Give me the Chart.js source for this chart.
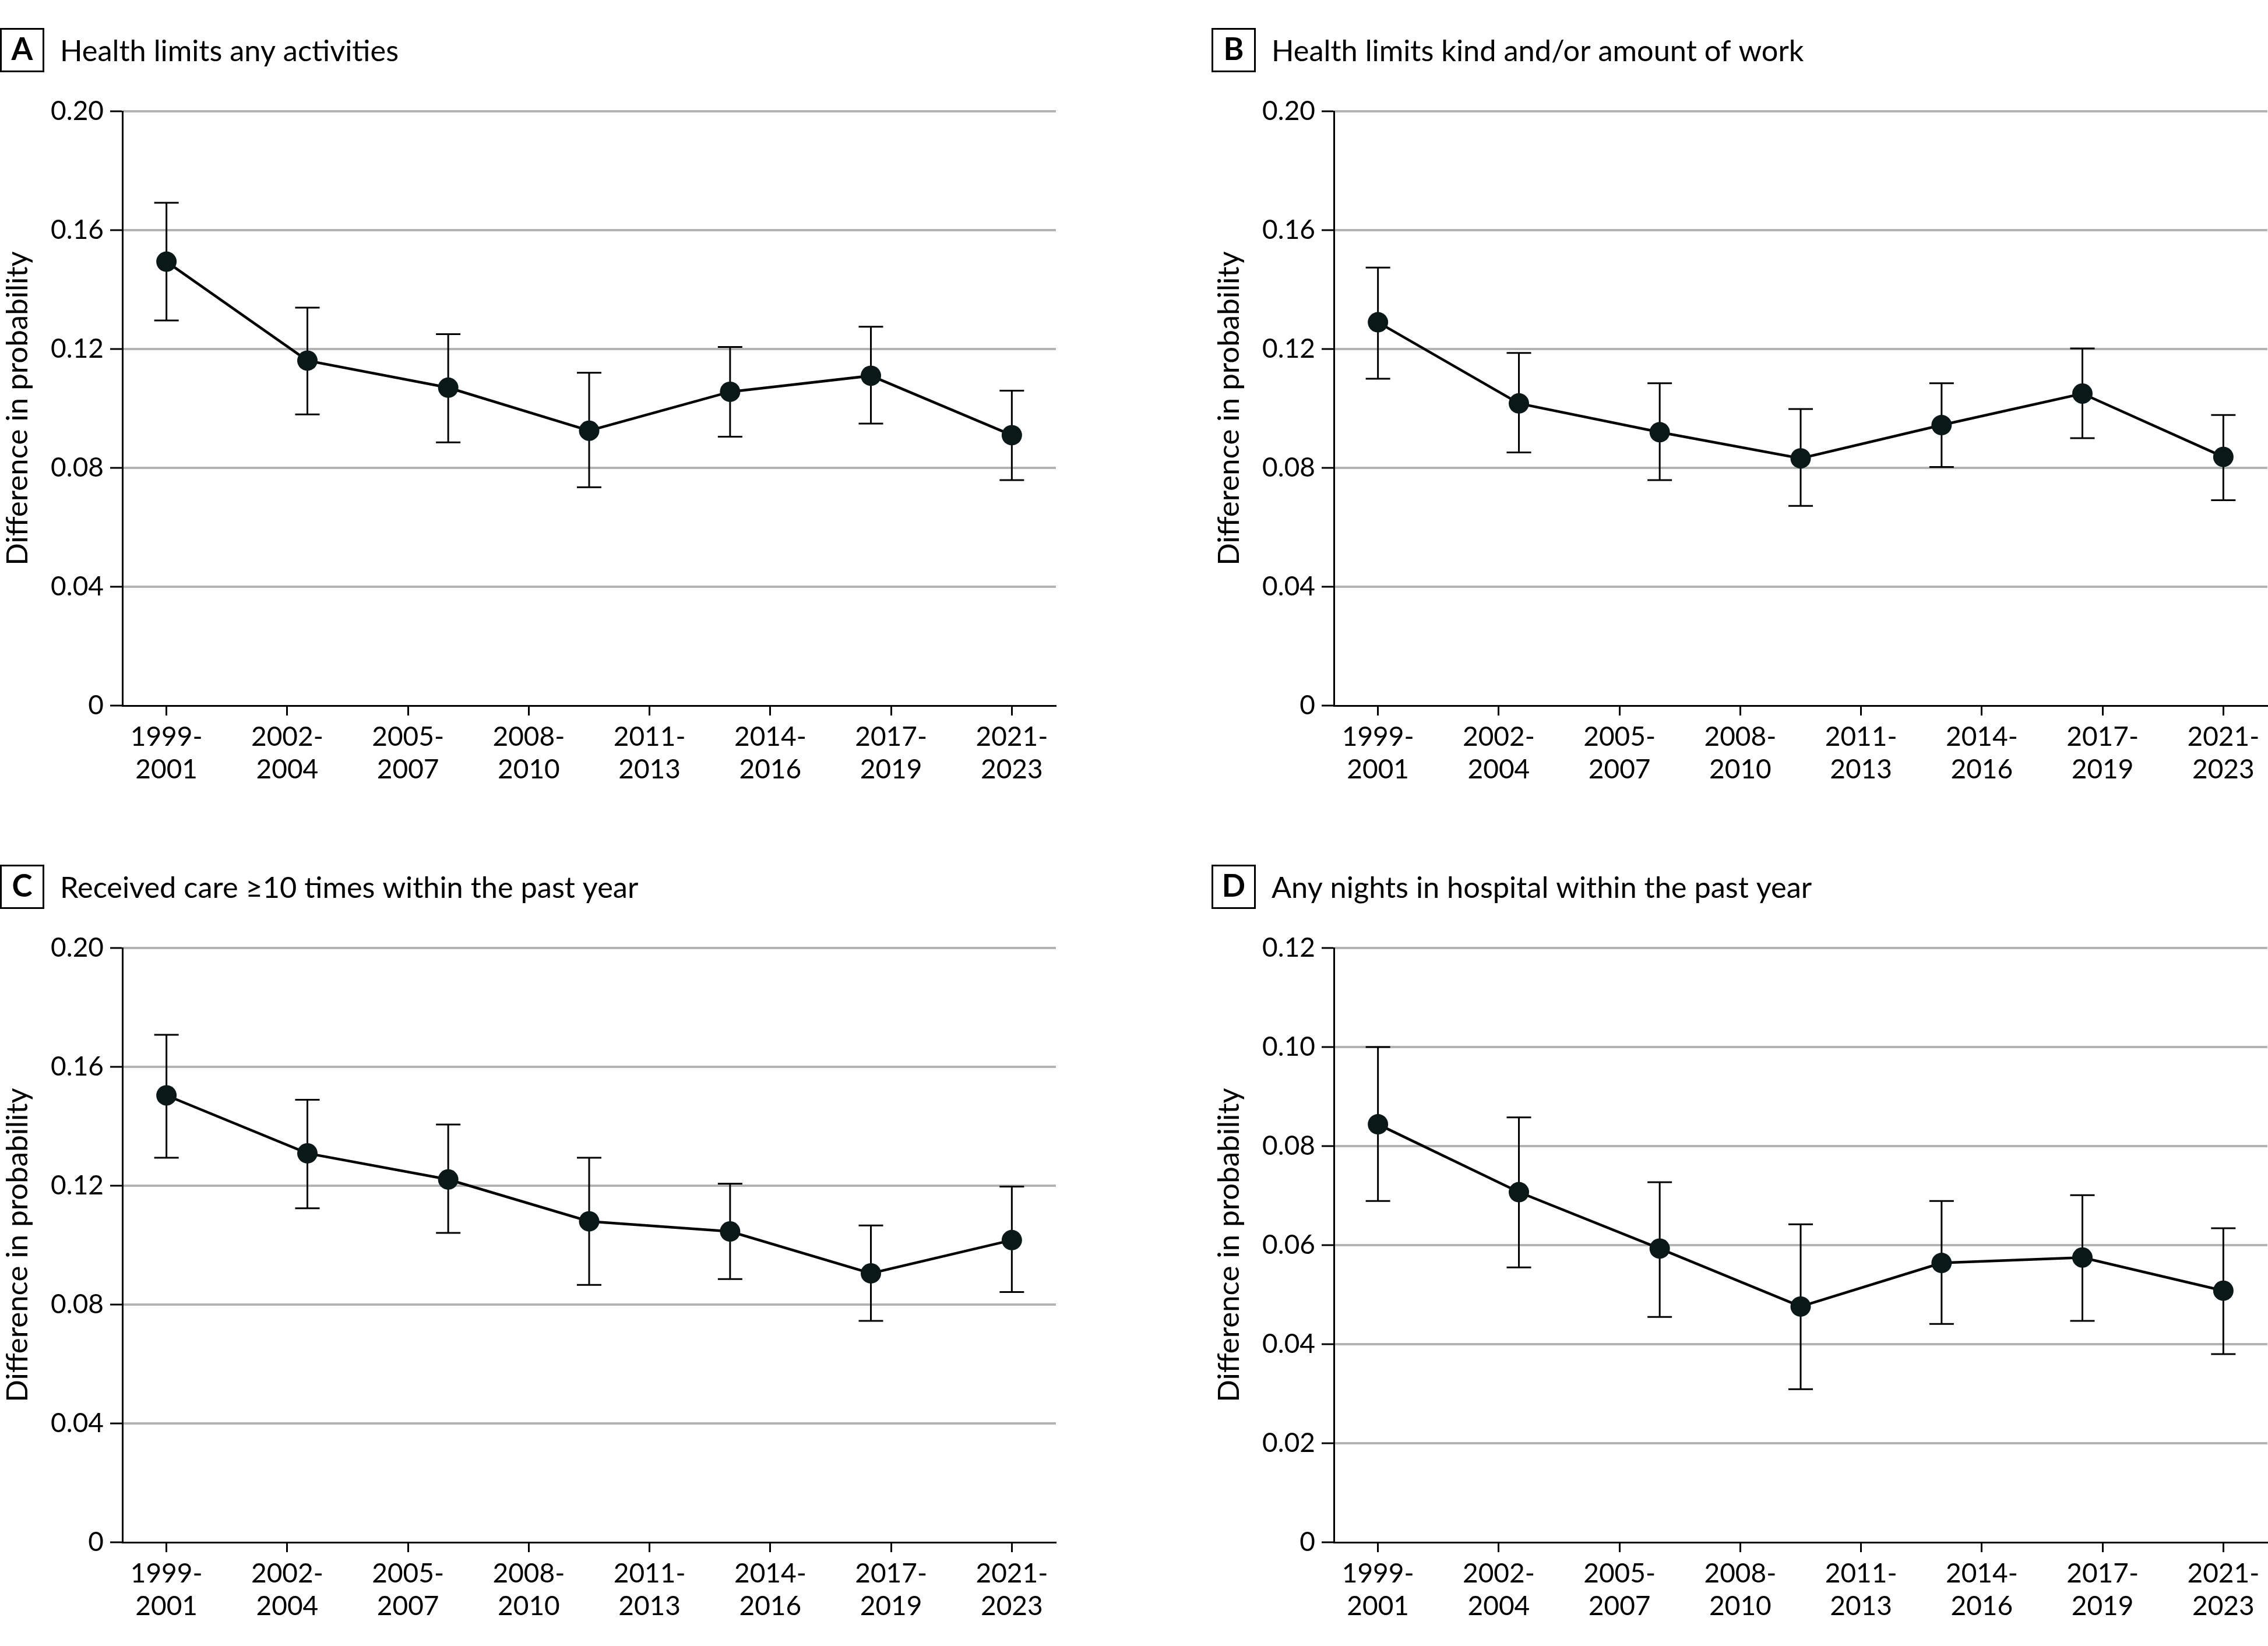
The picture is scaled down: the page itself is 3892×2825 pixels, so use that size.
<!DOCTYPE html>
<html>
<head>
<meta charset="utf-8">
<title>Difference in probability by period</title>
<script src="https://cdn.jsdelivr.net/npm/chart.js@4.4.1/dist/chart.umd.min.js"></script>
<style>
  html, body { margin: 0; padding: 0; background: #fff; }
  body { width: 3892px; height: 2825px; position: relative; overflow: hidden; }
  .panel { position: absolute; width: 1813px; height: 1389px; }
</style>
</head>
<body>
<div class="panel" style="left:0;top:0"><canvas id="chart-a"></canvas></div>
<div class="panel" style="left:2079px;top:0"><canvas id="chart-b"></canvas></div>
<div class="panel" style="left:0;top:1436px"><canvas id="chart-c"></canvas></div>
<div class="panel" style="left:2079px;top:1436px"><canvas id="chart-d"></canvas></div>
<script>
// x axis: period labels sit on ticks 0..7, the 7 estimates are spread evenly over the same span
const periodLabels = ['1999-2001', '2002-2004', '2005-2007', '2008-2010', '2011-2013', '2014-2016', '2017-2019', '2021-2023'];
const pointPositions = [0, 1.167, 2.333, 3.5, 4.667, 5.833, 7];

const yTicksWide = [0, 0.04, 0.08, 0.12, 0.16, 0.20];
const yTicksHospital = [0, 0.02, 0.04, 0.06, 0.08, 0.10, 0.12];

// A: health limits any activities
const activitiesEst = [0.1494, 0.1161, 0.1070, 0.0925, 0.1056, 0.1110, 0.0910];
const activitiesLow = [0.1296, 0.0980, 0.0886, 0.0735, 0.0905, 0.0949, 0.0759];
const activitiesHigh = [0.1692, 0.1339, 0.1250, 0.1120, 0.1207, 0.1275, 0.1060];

// B: health limits kind and/or amount of work
const workEst = [0.1290, 0.1017, 0.0920, 0.0832, 0.0944, 0.1050, 0.0837];
const workLow = [0.1100, 0.0852, 0.0759, 0.0672, 0.0803, 0.0900, 0.0691];
const workHigh = [0.1474, 0.1187, 0.1085, 0.0998, 0.1085, 0.1202, 0.0978];

// C: received care >=10 times
const careEst = [0.1504, 0.1309, 0.1221, 0.1080, 0.1046, 0.0905, 0.1017];
const careLow = [0.1294, 0.1124, 0.1041, 0.0866, 0.0886, 0.0745, 0.0842];
const careHigh = [0.1708, 0.1489, 0.1406, 0.1294, 0.1207, 0.1066, 0.1197];

// D: any nights in hospital
const hospitalEst = [0.0844, 0.0707, 0.0593, 0.0476, 0.0564, 0.0575, 0.0508];
const hospitalLow = [0.0689, 0.0555, 0.0455, 0.0309, 0.0441, 0.0447, 0.0380];
const hospitalHigh = [0.1000, 0.0858, 0.0727, 0.0642, 0.0689, 0.0701, 0.0634];

const FONT = 'Lato, "Open Sans", sans-serif';

/**
 * Error bars drawn under the line and markers.
 */
const errorBarPlugin = {
    id: 'errorBars',
    beforeDatasetsDraw(chart, args, opts) {
        const ctx = chart.ctx;
        const x = chart.scales.x;
        const y = chart.scales.y;
        ctx.save();
        ctx.strokeStyle = '#000';
        ctx.lineWidth = 3;
        opts.low.forEach((lo, i) => {
            const px = x.getPixelForValue(pointPositions[i]);
            const top = y.getPixelForValue(opts.high[i]);
            const bottom = y.getPixelForValue(lo);
            ctx.beginPath();
            ctx.moveTo(px, top);
            ctx.lineTo(px, bottom);
            ctx.moveTo(px - 21, top);
            ctx.lineTo(px + 21, top);
            ctx.moveTo(px - 21, bottom);
            ctx.lineTo(px + 21, bottom);
            ctx.stroke();
        });
        ctx.restore();
    }
};

/**
 * Boxed panel letter and panel title.
 */
const panelHeaderPlugin = {
    id: 'panelHeader',
    afterDraw(chart, args, opts) {
        const ctx = chart.ctx;
        ctx.save();
        ctx.strokeStyle = '#000';
        ctx.lineWidth = 3;
        ctx.strokeRect(1.5, 49.5, 73, 73);
        ctx.fillStyle = '#000';
        ctx.textBaseline = 'alphabetic';
        ctx.textAlign = 'center';
        ctx.font = 'bold 53px ' + FONT;
        ctx.fillText(opts.letter, 38, 103);
        ctx.textAlign = 'left';
        ctx.font = '50.5px ' + FONT;
        ctx.fillText(opts.title, 103, 105);
        ctx.restore();
    }
};

function createPanel(canvasId, letter, title, est, low, high, yTicks) {
    return new Chart(document.getElementById(canvasId).getContext('2d'), {
        type: 'line',
        data: {
            datasets: [{
                data: est.map((v, i) => ({x: pointPositions[i], y: v})),
                borderColor: '#000',
                borderWidth: 4.5,
                tension: 0,
                pointRadius: 17.5,
                pointHoverRadius: 17.5,
                pointBackgroundColor: '#0a1818',
                pointBorderWidth: 0,
                clip: false
            }]
        },
        options: {
            responsive: true,
            maintainAspectRatio: false,
            animation: false,
            events: [],
            layout: {
                autoPadding: false,
                padding: {top: 191, right: 1, bottom: 0, left: 0}
            },
            plugins: {
                legend: {display: false},
                tooltip: {enabled: false},
                errorBars: {low: low, high: high},
                panelHeader: {letter: letter, title: title}
            },
            scales: {
                x: {
                    type: 'linear',
                    min: -0.365,
                    max: 7.365,
                    afterBuildTicks: s => { s.ticks = periodLabels.map((_, i) => ({value: i})); },
                    afterFit: s => { s.height = 178; },
                    ticks: {
                        autoSkip: false,
                        maxRotation: 0,
                        padding: 9,
                        color: '#000',
                        font: {family: FONT, size: 46, lineHeight: 1.22},
                        callback: v => {
                            const parts = periodLabels[v].split('-');
                            return [parts[0] + '-', parts[1]];
                        }
                    },
                    grid: {
                        drawOnChartArea: false,
                        drawTicks: true,
                        tickLength: 17,
                        tickColor: '#000',
                        tickWidth: 3
                    },
                    border: {display: true, color: '#000', width: 3}
                },
                y: {
                    min: 0,
                    max: yTicks[yTicks.length - 1],
                    afterBuildTicks: s => { s.ticks = yTicks.map(v => ({value: v})); },
                    afterFit: s => { s.width = 210; },
                    ticks: {
                        padding: 11,
                        color: '#000',
                        font: {family: FONT, size: 46},
                        callback: v => v === 0 ? '0' : v.toFixed(2)
                    },
                    grid: {
                        color: c => (c.tick && c.tick.value === 0) ? 'rgba(0,0,0,0)' : '#b3b3b3',
                        lineWidth: 4,
                        tickLength: 21,
                        tickColor: '#000',
                        tickWidth: 3
                    },
                    border: {display: true, color: '#000', width: 3},
                    title: {
                        display: true,
                        text: 'Difference in probability',
                        color: '#000',
                        padding: 0,
                        font: {family: FONT, size: 51}
                    }
                }
            }
        },
        plugins: [errorBarPlugin, panelHeaderPlugin]
    });
}

createPanel('chart-a', 'A', 'Health limits any activities', activitiesEst, activitiesLow, activitiesHigh, yTicksWide);
createPanel('chart-b', 'B', 'Health limits kind and/or amount of work', workEst, workLow, workHigh, yTicksWide);
createPanel('chart-c', 'C', 'Received care \u226510 times within the past year', careEst, careLow, careHigh, yTicksWide);
createPanel('chart-d', 'D', 'Any nights in hospital within the past year', hospitalEst, hospitalLow, hospitalHigh, yTicksHospital);
</script>
</body>
</html>
